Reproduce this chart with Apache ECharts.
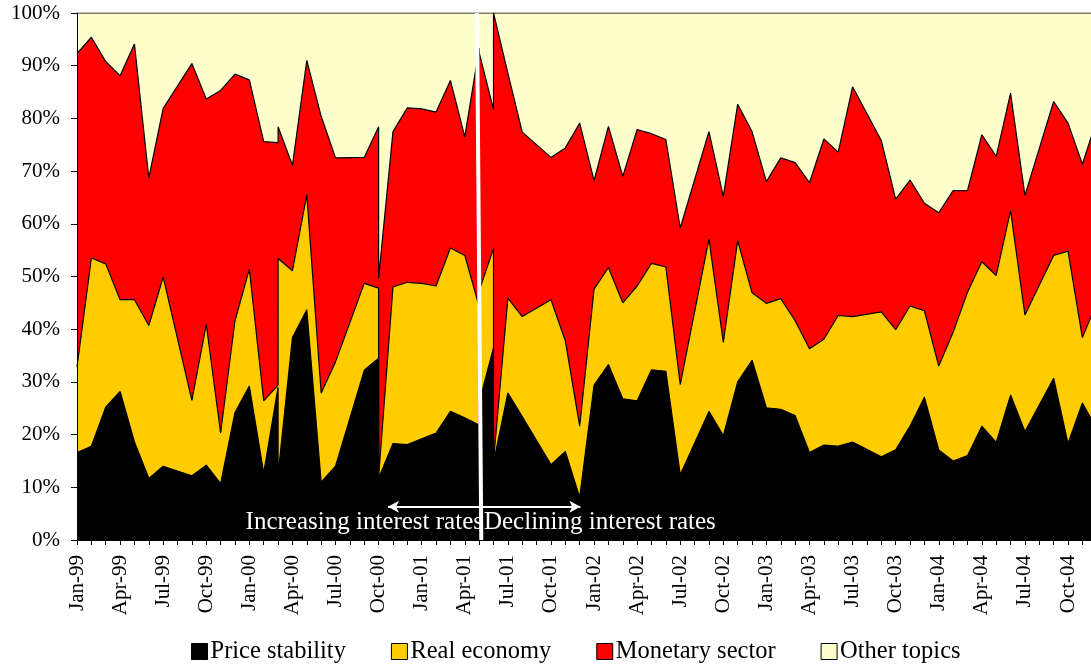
<!DOCTYPE html>
<html><head><meta charset="utf-8">
<script src="https://cdn.jsdelivr.net/npm/echarts@6/dist/echarts.min.js"></script>
<style>html,body{margin:0;padding:0;background:#fff}#c{width:1091px;height:668px}</style>
</head><body><div id="c"></div>
<script>
// Press-conference dates (some months have two observations, some have none)
const dates = [
  '1999-01','1999-02','1999-03','1999-04','1999-05','1999-06','1999-07','1999-09','1999-10','1999-11','1999-12',
  '2000-01','2000-02','2000-03','2000-03','2000-04','2000-05','2000-06','2000-07','2000-09','2000-10','2000-10','2000-11','2000-12',
  '2001-01','2001-02','2001-03','2001-04','2001-05','2001-05','2001-06','2001-06','2001-07','2001-08','2001-10','2001-11','2001-12',
  '2002-01','2002-02','2002-03','2002-04','2002-05','2002-06','2002-07','2002-09','2002-10','2002-11','2002-12',
  '2003-01','2003-02','2003-03','2003-04','2003-05','2003-06','2003-07','2003-09','2003-10','2003-11','2003-12',
  '2004-01','2004-02','2004-03','2004-04','2004-05','2004-06','2004-07','2004-09','2004-10','2004-11','2004-12'
];
const priceStability = [
  16.6,17.8,25.2,28.2,18.6,11.7,14.0,12.2,14.2,10.7,24.2,
  29.2,12.7,29.0,12.4,38.4,43.7,11.0,14.0,32.2,34.5,11.7,18.3,18.1,
  19.2,20.3,24.4,23.2,21.8,26.1,36.5,14.7,27.9,23.4,14.3,16.8,8.1,
  29.4,33.3,26.8,26.4,32.3,32.0,12.4,24.4,19.8,30.0,34.1,
  25.1,24.8,23.6,16.6,18.0,17.8,18.6,15.8,17.1,21.6,27.1,
  17.1,15.0,16.0,21.6,18.5,27.5,20.6,30.7,18.3,26.0,21.1
];
const realEconomy = [
  16.2,35.7,27.2,17.4,27.0,29.0,35.9,14.3,26.7,9.6,17.4,
  22.2,13.7,0.4,41.0,12.7,21.8,16.9,19.8,16.5,13.3,0.2,29.7,30.8,
  29.5,27.9,31.0,30.8,22.5,21.2,18.8,0.3,18.0,19.0,31.3,21.0,13.5,
  18.2,18.4,18.2,21.8,20.2,19.8,17.1,32.7,17.7,26.8,12.8,
  19.8,21.0,18.0,19.7,20.1,24.8,23.8,27.5,22.8,22.8,16.4,
  15.9,24.4,31.0,31.2,31.7,35.0,22.1,23.3,36.5,12.4,23.9
];
const monetarySector = [
  59.5,41.9,38.4,42.5,48.5,28.0,32.0,63.9,42.8,65.0,46.8,
  35.9,49.2,46.0,25.0,20.0,25.5,52.5,38.7,23.9,30.6,37.8,29.5,33.1,
  33.1,33.0,31.8,22.5,49.0,45.2,26.4,85.0,42.7,35.0,27.0,36.6,57.5,
  20.6,26.8,24.0,29.7,24.6,24.2,29.7,20.4,27.7,25.9,30.6,
  23.1,26.7,30.0,31.5,38.0,31.0,43.6,32.5,24.8,23.9,20.4,
  29.1,26.9,19.3,24.1,22.6,22.3,22.7,29.2,24.3,32.9,34.7
];
const otherTopics = [
  7.7,4.6,9.2,11.9,5.9,31.3,18.1,9.6,16.3,14.7,11.6,
  12.7,24.4,24.6,21.6,28.9,9.0,19.6,27.5,27.4,21.6,50.3,22.5,18.0,
  18.2,18.8,12.8,23.5,6.7,7.5,18.3,0.0,11.4,22.6,27.4,25.6,20.9,
  31.8,21.5,31.0,22.1,22.9,24.0,40.8,22.5,34.8,17.3,22.5,
  32.0,27.5,28.4,32.2,23.9,26.4,14.0,24.2,35.3,31.7,36.1,
  37.9,33.7,33.7,23.1,27.2,15.2,34.6,16.8,20.9,28.7,20.3
];
const tickLabels = [
  'Jan-99','Apr-99','Jul-99','Oct-99','Jan-00','Apr-00','Jul-00','Oct-00',
  'Jan-01','Apr-01','Jul-01','Oct-01','Jan-02','Apr-02','Jul-02','Oct-02',
  'Jan-03','Apr-03','Jul-03','Oct-03','Jan-04','Apr-04','Jul-04','Oct-04'
];
const seriesNames = ['Price stability','Real economy','Monetary sector','Other topics'];
const annotationTexts = ['Increasing interest rates','Declining interest rates'];

const FONT = '"Liberation Serif","Times New Roman",serif';
const colors = ['#000000','#FFCC00','#FF0000','#FFFFCC'];
const monthIndex = d => (parseInt(d.slice(0,4),10) - 1999) * 12 + parseInt(d.slice(5,7),10) - 1;
const xs = dates.map(monthIndex);
const values = [priceStability, realEconomy, monetarySector, otherTopics];

// cumulative shares (100% stacked area), drawn from the back (top layer) to the front
const cumulative = values.map((arr, k) => arr.map((_, i) => {
  let s = 0;
  for (let j = 0; j <= k; j++) s += values[j][i];
  return Math.round(s * 100) / 100;
}));

const series = values.map((arr, k) => ({
  name: seriesNames[k],
  type: 'line',
  z: 4 - k,
  data: cumulative[k].map((v, i) => [xs[i], v]),
  symbol: 'none',
  showSymbol: false,
  lineStyle: { color: '#000', width: 1.2 },
  itemStyle: { color: colors[k] },
  areaStyle: { color: colors[k], opacity: 1, origin: 'start' },
  emphasis: { disabled: true },
  clip: true
}));

series[0].markLine = {
  silent: true,
  animation: false,
  label: { show: false },
  data: [
    [{ coord: [27.85, 100], symbol: 'none' }, { coord: [28.15, 0], symbol: 'none', lineStyle: { color: '#fff', width: 4, type: 'solid' } }],
    [{ coord: [21.65, 6.3], symbol: 'arrow', symbolSize: [9, 11] }, { coord: [35.05, 6.3], symbol: 'arrow', symbolSize: [9, 11], lineStyle: { color: '#fff', width: 2, type: 'solid' } }]
  ],
  lineStyle: { color: '#fff', width: 2, type: 'solid' }
};
series[0].markPoint = {
  silent: true,
  animation: false,
  symbol: 'rect',
  symbolSize: 1,
  itemStyle: { color: 'rgba(0,0,0,0)' },
  label: { show: true, formatter: '{b}', color: '#fff', fontSize: 25, fontFamily: FONT, distance: 0 },
  data: [
    { name: annotationTexts[0], coord: [28.3, 3.4], label: { position: 'left' } },
    { name: annotationTexts[1], coord: [28.3, 3.4], label: { position: 'right' } }
  ]
};

const chart = echarts.init(document.getElementById('c'), null, { renderer: 'canvas' });
chart.setOption({
  animation: false,
  backgroundColor: '#fff',
  grid: { left: 77, right: 0, top: 13, bottom: 128, containLabel: false },
  xAxis: {
    type: 'value', min: 0, max: 70.6, interval: 1,
    splitLine: { show: false },
    axisLine: { show: true, onZero: false, lineStyle: { color: '#000', width: 1 } },
    axisTick: { show: true, inside: false, length: 5, lineStyle: { color: '#000' } },
    axisLabel: {
      rotate: 90, margin: 15, color: '#000', fontSize: 21, fontFamily: FONT,
      showMaxLabel: false,
      formatter: v => {
        const m = Math.round(v);
        if (Math.abs(v - m) > 1e-6 || m % 3 !== 0) return '';
        return tickLabels[m / 3] || '';
      }
    }
  },
  yAxis: {
    type: 'value', min: 0, max: 100, interval: 10, z: 6,
    splitLine: { show: false },
    axisLine: { show: true, lineStyle: { color: '#000', width: 1 } },
    axisTick: { show: true, inside: false, length: 6, lineStyle: { color: '#000' } },
    axisLabel: { color: '#000', fontSize: 21, fontFamily: FONT, margin: 17, formatter: '{value}%' }
  },
  legend: {
    left: 186, top: 634, icon: 'rect', itemWidth: 16, itemHeight: 16, itemGap: 45,
    selectedMode: false,
    textStyle: { color: '#000', fontSize: 24.5, fontFamily: FONT, padding: [0, 0, 0, -2] },
    data: seriesNames.map((n, k) => ({ name: n, itemStyle: { color: colors[k], borderColor: '#000', borderWidth: 1 } }))
  },
  series: series
});
</script>
</body></html>
